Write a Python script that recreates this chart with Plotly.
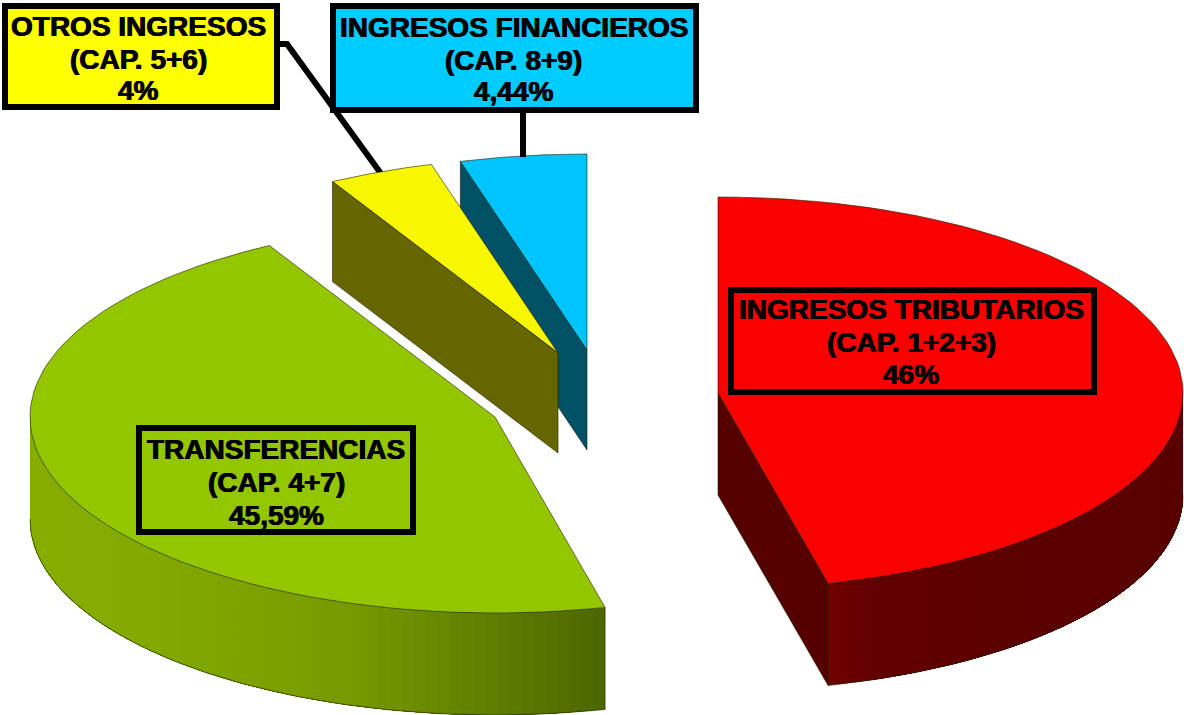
import math
import plotly.graph_objects as go

# Data
categories = ["INGRESOS TRIBUTARIOS", "TRANSFERENCIAS", "OTROS INGRESOS", "INGRESOS FINANCIEROS"]
chapters = ["(CAP. 1+2+3)", "(CAP. 4+7)", "(CAP. 5+6)", "(CAP. 8+9)"]
value_labels = ["46%", "45,59%", "4%", "4,44%"]
slice_shares = [46.2, 45.75, 3.67, 4.39]  # drawn angle of each slice, in % of the circle

# Styles and layout
top_colors = ["#fa0000", "#94c600", "#f7f700", "#00c4fd"]
side_colors = ["#550000", None, "#666600", "#005066"]
box_colors = ["rgba(0,0,0,0)", "rgba(0,0,0,0)", "#ffff00", "#00ccff"]
apexes = [(718, 393), (495, 417), (558, 353), (587, 350)]
depths = [102, 102, 100, 100]
box_rects = [(731, 290, 1094, 392), (139, 428, 413, 532), (5, 6, 277, 107), (333, 6, 696, 110)]
text_x = [911, 276, 138, 513.5]
text_y = [(309, 342, 374), (449, 482, 515), (26, 59, 90), (27, 60, 91)]
RX, RY = 465, 196
EDGE = "rgba(30,30,0,0.75)"

red_wall_stops = [(0.0, (112, 0, 0)), (0.12, (98, 0, 0)), (0.5, (92, 0, 0)), (1.0, (88, 0, 0))]
green_wall_stops = [(0.0, (134, 174, 0)), (0.25, (128, 168, 0)), (0.55, (118, 155, 0)),
                    (0.8, (95, 126, 0)), (1.0, (76, 102, 0))]

fig = go.Figure()


def point(apex, deg):
    a = math.radians(deg)
    return apex[0] + RX * math.sin(a), apex[1] - RY * math.cos(a)


def arc(apex, start, end, n=80):
    pts = [point(apex, start + (end - start) * i / n) for i in range(n + 1)]
    return [p[0] for p in pts], [p[1] for p in pts]


def poly(xs, ys, fill, line=None, width=0):
    fig.add_trace(go.Scatter(
        x=xs + xs[:1], y=ys + ys[:1], mode="lines", fill="toself", fillcolor=fill,
        line=dict(color=line or fill, width=width), hoverinfo="skip", showlegend=False))


def radial_face(apex, deg, fill, depth):
    x, y = point(apex, deg)
    poly([apex[0], x, x, apex[0]], [apex[1], y, y + depth, apex[1] + depth], fill, EDGE, 0.8)


def top_face(apex, start, end, fill):
    xs, ys = arc(apex, start, end)
    poly([apex[0]] + xs, [apex[1]] + ys, fill, EDGE, 0.8)


def mix(stops, t):
    for (t0, c0), (t1, c1) in zip(stops, stops[1:]):
        if t <= t1:
            f = (t - t0) / (t1 - t0)
            return "rgb(%d,%d,%d)" % tuple(round(a + (b - a) * f) for a, b in zip(c0, c1))
    return "rgb(%d,%d,%d)" % stops[-1][1]


def curved_wall(apex, start, end, stops, depth, n=70):
    """Outer wall; colour follows the screen x. Bands overlap so no seams show."""
    xa0, xb0 = point(apex, start)[0], point(apex, end)[0]
    x_left, x_right = min(xa0, xb0), max(xa0, xb0)
    for i in range(n):
        a0 = start + (end - start) * i / n
        a1 = start + (end - start) * (i + 1) / n
        xs, ys = arc(apex, a0, end, 24)
        t = ((point(apex, a0)[0] + point(apex, a1)[0]) / 2 - x_left) / (x_right - x_left)
        poly(xs + xs[::-1], ys + [y + depth for y in ys[::-1]], mix(stops, t))
    xs, ys = arc(apex, start, end)
    fig.add_trace(go.Scatter(x=[xs[0]] + xs, y=[ys[0]] + [y + depth for y in ys],
                             mode="lines", line=dict(color=EDGE, width=0.8),
                             hoverinfo="skip", showlegend=False))


angles = [0]
for s in slice_shares:
    angles.append(angles[-1] + s * 360 / sum(slice_shares))

# Leader line of the yellow box goes behind the slices
fig.add_trace(go.Scatter(x=[278, 287, 382], y=[44, 44, 175], mode="lines",
                         line=dict(color="black", width=6), hoverinfo="skip", showlegend=False))

# Financial slice
radial_face(apexes[3], angles[3], side_colors[3], depths[3])
top_face(apexes[3], angles[3], angles[4], top_colors[3])
fig.add_trace(go.Scatter(x=[523, 523], y=[110, 157], mode="lines",
                         line=dict(color="black", width=6), hoverinfo="skip", showlegend=False))
# Other income slice
top_face(apexes[2], angles[2], angles[3], top_colors[2])
radial_face(apexes[2], angles[2], side_colors[2], depths[2])
# Transfers slice
curved_wall(apexes[1], angles[1], 270, green_wall_stops, depths[1])
top_face(apexes[1], angles[1], angles[2], top_colors[1])
# Tax slice
radial_face(apexes[0], angles[1], side_colors[0], depths[0])
curved_wall(apexes[0], angles[1], 90, red_wall_stops, depths[0])
top_face(apexes[0], angles[0], angles[1], top_colors[0])

# Label boxes and their three lines of text
for i, (x0, y0, x1, y1) in enumerate(box_rects):
    fig.add_shape(type="rect", x0=x0, y0=y0, x1=x1, y1=y1, xref="x", yref="y", layer="above",
                  fillcolor=box_colors[i], line=dict(color="black", width=6))
    for line, y in zip((categories[i], chapters[i], value_labels[i]), text_y[i]):
        fig.add_annotation(x=text_x[i], y=y, xref="x", yref="y", showarrow=False,
                           xanchor="center", yanchor="middle", text=f"<b>{line}</b>",
                           font=dict(family="Liberation Sans", size=28, color="black",
                                     shadow="0.5px 0 0 black, -0.5px 0 0 black"))

fig.update_layout(
    width=1184, height=715, margin=dict(l=0, r=0, t=0, b=0),
    paper_bgcolor="white", plot_bgcolor="white", showlegend=False,
    xaxis=dict(range=[0, 1184], visible=False, fixedrange=True),
    yaxis=dict(range=[715, 0], visible=False, fixedrange=True))

fig.write_html("out.html", config=dict(displayModeBar=False),
               post_script="document.body.style.margin='0';document.documentElement.style.overflow='hidden';")
